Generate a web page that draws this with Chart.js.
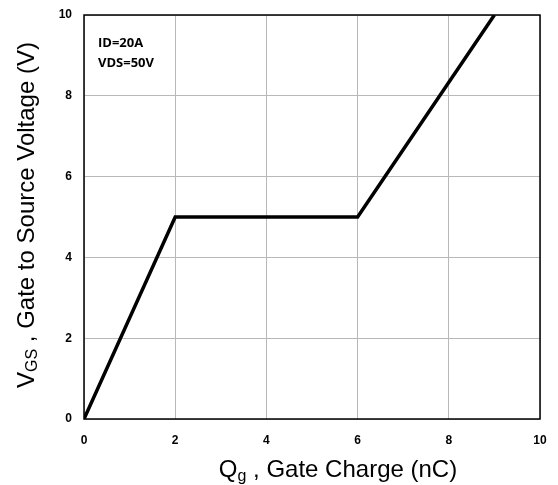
<!DOCTYPE html>
<html>
<head>
<meta charset="utf-8">
<script src="https://cdn.jsdelivr.net/npm/chart.js@4"></script>
<style>
  html, body { margin: 0; padding: 0; background: #fff; }
  #wrap { width: 558px; height: 485px; }
</style>
</head>
<body>
<div id="wrap"><canvas id="gateChart"></canvas></div>
<script>
// Gate charge curve
const qgValues = [0, 2, 6, 9];
const vgsValues = [0, 5, 5, 10];
const xTicks = [0, 2, 4, 6, 8, 10];
const yTicks = [0, 2, 4, 6, 8, 10];
const noteLines = ['ID=20A', 'VDS=50V'];

// draws frame, subscripted axis titles and the test condition note
const extras = {
  id: 'extras',
  beforeDatasetsDraw(chart) {
    const { ctx, chartArea: a } = chart;
    ctx.save();
    ctx.strokeStyle = '#000';
    ctx.lineWidth = 1.5;
    ctx.strokeRect(a.left, a.top, a.right - a.left, a.bottom - a.top);
    ctx.restore();
  },
  afterDraw(chart) {
    const { ctx, chartArea: a } = chart;
    ctx.save();
    ctx.fillStyle = '#000';
    ctx.textBaseline = 'alphabetic';

    const big = '24px "Liberation Sans", Arial, sans-serif';
    const small = '16px "Liberation Sans", Arial, sans-serif';
    // x title
    const xParts = [['Q', big, 0], ['g', small, 4], [' , Gate Charge (nC)', big, 0]];
    drawParts(ctx, xParts, 338, 477);

    // y title, rotated
    ctx.translate(34, 215);
    ctx.rotate(-Math.PI / 2);
    const yParts = [['V', big, 0], ['GS', small, 3], [' , Gate to Source Voltage (V)', big, 0]];
    drawParts(ctx, yParts, 0, 0);
    ctx.restore();

    ctx.save();
    ctx.fillStyle = '#000';
    ctx.font = 'bold 13px "Open Sans", Carlito, sans-serif';
    ctx.textBaseline = 'middle';
    noteLines.forEach((t, i) => ctx.fillText(t, a.left + 14, 43 + i * 20));
    ctx.restore();
  }
};

function drawParts(ctx, parts, cx, baseY) {
  let total = 0;
  parts.forEach(p => { ctx.font = p[1]; total += ctx.measureText(p[0]).width; });
  let x = cx - total / 2;
  parts.forEach(p => {
    ctx.font = p[1];
    ctx.fillText(p[0], x, baseY + p[2]);
    x += ctx.measureText(p[0]).width;
  });
}

const tickFont = { family: '"Liberation Sans", Arial, sans-serif', size: 12, weight: 'bold' };

new Chart(document.getElementById('gateChart').getContext('2d'), {
  type: 'line',
  data: {
    datasets: [{
      data: qgValues.map((q, i) => ({ x: q, y: vgsValues[i] })),
      borderColor: '#000',
      borderWidth: 3.5,
      pointRadius: 0,
      tension: 0,
      fill: false
    }]
  },
  options: {
    responsive: true,
    maintainAspectRatio: false,
    animation: false,
    layout: { padding: { left: 0, top: 15, right: 18, bottom: 0 } },
    plugins: { legend: { display: false }, tooltip: { enabled: false } },
    scales: {
      x: {
        type: 'linear', min: 0, max: 10,
        afterBuildTicks: s => { s.ticks = xTicks.map(v => ({ value: v })); },
        afterFit: s => { s.height = 66; s.paddingLeft = 0; s.paddingRight = 0; },
        grid: { color: '#b8b8b8', lineWidth: 1, drawTicks: false },
        border: { display: false },
        ticks: { color: '#000', font: tickFont, padding: 14, maxRotation: 0 }
      },
      y: {
        type: 'linear', min: 0, max: 10,
        afterBuildTicks: s => { s.ticks = yTicks.map(v => ({ value: v })); },
        afterFit: s => { s.width = 84; s.paddingTop = 0; s.paddingBottom = 0; },
        grid: { color: '#b8b8b8', lineWidth: 1, drawTicks: false },
        border: { display: false },
        ticks: { color: '#000', font: tickFont, padding: 12 }
      }
    }
  },
  plugins: [extras]
});
</script>
</body>
</html>
